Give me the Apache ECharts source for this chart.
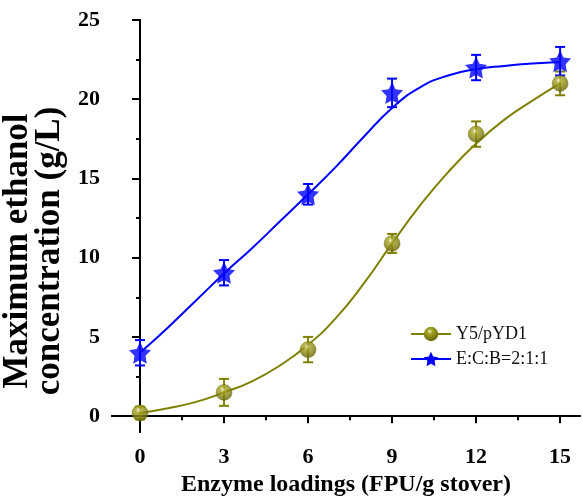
<!DOCTYPE html>
<html>
<head>
<meta charset="utf-8">
<script src="https://cdn.jsdelivr.net/npm/echarts@6/dist/echarts.min.js"></script>
<style>
html,body{margin:0;padding:0;background:#fff;}
#chart{width:582px;height:500px;}
</style>
</head>
<body>
<div id="chart"></div>
<script>
// measured points (FPU/g stover vs g/L)
const loadings = [0, 3, 6, 9, 12, 15];
const y5Values = [0.2, 1.5, 4.2, 10.9, 17.8, 21.0];
const y5Errors = [0.4, 0.85, 0.8, 0.6, 0.8, 0.75];
const ecbValues = [4.0, 9.05, 14.0, 20.4, 22.0, 22.4];
const ecbErrors = [0.8, 0.8, 0.65, 0.9, 0.8, 0.9];

// fitted curves at each unit
const fitX = [0, 1, 2, 3, 4, 5, 6, 7, 8, 9, 10, 11, 12, 13, 14, 15];
const y5Fit = [0.2, 0.5, 0.9, 1.5, 2.2, 3.2, 4.5, 6.2, 8.4, 10.9, 13.3, 15.4, 17.2, 18.7, 19.9, 21.0];
const ecbFit = [4.0, 5.6, 7.3, 9.0, 10.6, 12.3, 14.0, 15.75, 17.65, 19.45, 20.75, 21.5, 21.9, 22.1, 22.25, 22.35];

const xMajor = [0, 3, 6, 9, 12, 15];
const xMinor = [1.5, 4.5, 7.5, 10.5, 13.5];
const yMajor = [0, 5, 10, 15, 20, 25];
const yMinor = [2.5, 7.5, 12.5, 17.5, 22.5];

const FONT = 'Liberation Serif, Times New Roman, serif';
const OLIVE = '#808000';
const BLUE = '#0000ff';
const STAR = 'path://M50,0 L64.69,29.77 L97.55,34.55 L73.78,57.73 L79.39,90.45 L50,75 L20.61,90.45 L26.22,57.73 L2.45,34.55 L35.31,29.77 Z';
const sphere = new echarts.graphic.RadialGradient(0.42, 0.32, 0.75, [
    {offset: 0, color: '#f4f4d8'},
    {offset: 0.22, color: '#a6a626'},
    {offset: 1, color: '#5c5c00'}
]);

function zip(xs, ys) {
    return xs.map(function (x, i) { return [x, ys[i]]; });
}
function zip3(xs, ys, es) {
    return xs.map(function (x, i) { return [x, ys[i], es[i]]; });
}

function errorBars(color) {
    return function (params, api) {
        const x = api.value(0), y = api.value(1), e = api.value(2);
        const top = api.coord([x, y + e]);
        const bot = api.coord([x, y - e]);
        const w = 5;
        const st = {stroke: color, lineWidth: 2};
        return {
            type: 'group',
            children: [
                {type: 'line', shape: {x1: top[0], y1: top[1], x2: bot[0], y2: bot[1]}, style: st},
                {type: 'line', shape: {x1: top[0] - w, y1: top[1], x2: top[0] + w, y2: top[1]}, style: st},
                {type: 'line', shape: {x1: bot[0] - w, y1: bot[1], x2: bot[0] + w, y2: bot[1]}, style: st}
            ]
        };
    };
}

const xBase = {type: 'value', min: -1, max: 15.71, splitLine: {show: false}};
const yBase = {type: 'value', min: -1, max: 25, splitLine: {show: false}};
const lineSt = {show: true, lineStyle: {color: '#000', width: 2}};

const option = {
    animation: false,
    backgroundColor: '#fff',
    grid: {left: 112, right: 2, top: 20, bottom: 68, containLabel: false, outerBoundsMode: 'none'},
    legend: {
        data: ['Y5/pYD1', 'E:C:B=2:1:1'],
        orient: 'vertical',
        left: 405,
        top: 320,
        itemWidth: 40,
        itemHeight: 18,
        itemGap: 7,
        textStyle: {fontFamily: FONT, fontSize: 18, color: '#111'}
    },
    xAxis: [
        Object.assign({}, xBase, {
            position: 'bottom',
            axisLine: lineSt,
            axisTick: {show: true, inside: false, length: 7, customValues: xMajor, lineStyle: {color: '#000', width: 2}},
            axisLabel: {customValues: xMajor, margin: 14, fontFamily: FONT, fontSize: 22, fontWeight: 'bold', color: '#000'},
            name: 'Enzyme loadings (FPU/g stover)',
            nameLocation: 'middle',
            nameGap: 34,
            nameTextStyle: {fontFamily: FONT, fontSize: 24, fontWeight: 'bold', color: '#000'}
        }),
        Object.assign({}, xBase, {
            position: 'bottom',
            axisLine: {show: false},
            axisTick: {show: true, inside: false, length: 4, customValues: xMinor, lineStyle: {color: '#000', width: 2}},
            axisLabel: {show: false}
        }),
        Object.assign({}, xBase, {
            position: 'top',
            axisLine: lineSt,
            axisTick: {show: true, inside: true, length: 7, customValues: xMajor, lineStyle: {color: '#000', width: 2}},
            axisLabel: {show: false}
        }),
        Object.assign({}, xBase, {
            position: 'top',
            axisLine: {show: false},
            axisTick: {show: true, inside: true, length: 4, customValues: xMinor, lineStyle: {color: '#000', width: 2}},
            axisLabel: {show: false}
        })
    ],
    yAxis: [
        Object.assign({}, yBase, {
            position: 'left',
            axisLine: lineSt,
            axisTick: {show: true, inside: false, length: 8, customValues: yMajor, lineStyle: {color: '#000', width: 2}},
            axisLabel: {customValues: yMajor, margin: 12, fontFamily: FONT, fontSize: 22, fontWeight: 'bold', color: '#000'},
            name: 'Maximum ethanol\nconcentration (g/L)',
            nameLocation: 'middle',
            nameGap: 37,
            nameTextStyle: {fontFamily: FONT, fontSize: 35, lineHeight: 32, fontWeight: 'bold', color: '#000', padding: [0, 50, 0, 0]}
        }),
        Object.assign({}, yBase, {
            position: 'left',
            axisLine: {show: false},
            axisTick: {show: true, inside: false, length: 4, customValues: yMinor, lineStyle: {color: '#000', width: 2}},
            axisLabel: {show: false}
        }),
        Object.assign({}, yBase, {
            position: 'right',
            axisLine: lineSt,
            axisTick: {show: true, inside: true, length: 8, customValues: yMajor, lineStyle: {color: '#000', width: 2}},
            axisLabel: {show: false}
        }),
        Object.assign({}, yBase, {
            position: 'right',
            axisLine: {show: false},
            axisTick: {show: true, inside: true, length: 4, customValues: yMinor, lineStyle: {color: '#000', width: 2}},
            axisLabel: {show: false}
        })
    ],
    series: [
        {
            name: 'Y5/pYD1',
            type: 'line',
            smooth: 0.5,
            data: zip(fitX, y5Fit),
            showSymbol: false,
            symbol: 'circle',
            symbolSize: 16,
            itemStyle: {color: sphere},
            lineStyle: {color: OLIVE, width: 2},
            z: 2
        },
        {
            name: 'E:C:B=2:1:1',
            type: 'line',
            smooth: 0.5,
            data: zip(fitX, ecbFit),
            showSymbol: false,
            symbol: STAR,
            symbolSize: 20,
            itemStyle: {color: BLUE},
            lineStyle: {color: BLUE, width: 2},
            z: 2
        },
        {
            name: 'y5err',
            type: 'custom',
            renderItem: errorBars(OLIVE),
            data: zip3(loadings, y5Values, y5Errors),
            z: 3
        },
        {
            name: 'ecberr',
            type: 'custom',
            renderItem: errorBars(BLUE),
            data: zip3(loadings, ecbValues, ecbErrors),
            z: 3
        },
        {
            name: 'y5pts',
            type: 'scatter',
            symbol: 'circle',
            symbolSize: 16,
            itemStyle: {color: sphere, borderColor: '#6a6a00', borderWidth: 0.5},
            data: zip(loadings, y5Values),
            z: 4
        },
        {
            name: 'ecbpts',
            type: 'scatter',
            symbol: STAR,
            symbolSize: 22,
            itemStyle: {color: BLUE},
            data: zip(loadings, ecbValues),
            z: 4
        }
    ]
};

const chart = echarts.init(document.getElementById('chart'));
chart.setOption(option);
window.addEventListener('resize', function () {
    chart.resize();
});
</script>
</body>
</html>
